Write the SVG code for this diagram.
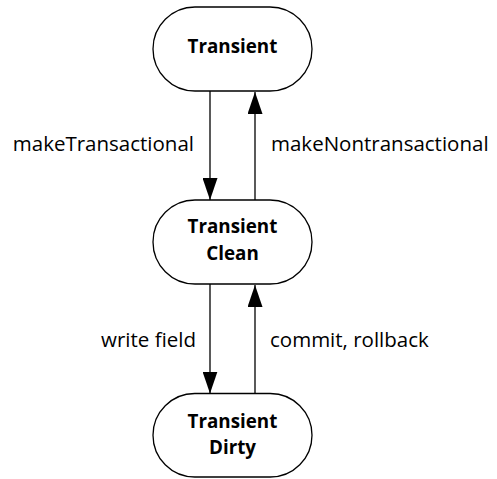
<svg xmlns="http://www.w3.org/2000/svg" width="497" height="479" viewBox="0 0 497 479">
<defs>
<style>
.node{fill:#fff;stroke:#000;stroke-width:1.3}
.nt{font-family:"Open Sans","DejaVu Sans",sans-serif;font-weight:bold;font-size:18.8px;fill:#000;text-anchor:middle}
.lbl{font-family:"Open Sans","DejaVu Sans",sans-serif;font-size:20.5px;fill:#000}
.edge{stroke:#000;stroke-width:1.3;fill:none}
</style>
<marker id="ah" viewBox="0 0 22 15" refX="22" refY="7.5" markerWidth="22" markerHeight="15" markerUnits="userSpaceOnUse" orient="auto">
<path d="M0,0 L22,7.5 L0,15 Z" fill="#000"/>
</marker>
</defs>
<rect width="497" height="479" fill="#fff"/>
<g id="connectors">
<line class="edge" x1="210" y1="91" x2="210" y2="200" marker-end="url(#ah)"/>
<line class="edge" x1="255" y1="200" x2="255" y2="92" marker-end="url(#ah)"/>
<line class="edge" x1="210" y1="284" x2="210" y2="393.5" marker-end="url(#ah)"/>
<line class="edge" x1="255" y1="393.5" x2="255" y2="285" marker-end="url(#ah)"/>
<text class="lbl" x="194" y="151" text-anchor="end">makeTransactional</text>
<text class="lbl" x="271" y="151">makeNontransactional</text>
<text class="lbl" x="196" y="347" text-anchor="end">write field</text>
<text class="lbl" x="270" y="347">commit, rollback</text>
</g>
<g id="transient">
<rect class="node" x="153" y="7" width="159" height="84" rx="42" ry="42"/>
<text class="nt" x="232.5" y="53">Transient</text>
</g>
<g id="transient-clean">
<rect class="node" x="153" y="200" width="159" height="84" rx="42" ry="42"/>
<text class="nt" x="232.5" y="233">Transient</text>
<text class="nt" x="232.5" y="260">Clean</text>
</g>
<g id="transient-dirty">
<rect class="node" x="153" y="393.5" width="159" height="83.5" rx="41.75" ry="41.75"/>
<text class="nt" x="232.5" y="428">Transient</text>
<text class="nt" x="232.5" y="454">Dirty</text>
</g>
</svg>
